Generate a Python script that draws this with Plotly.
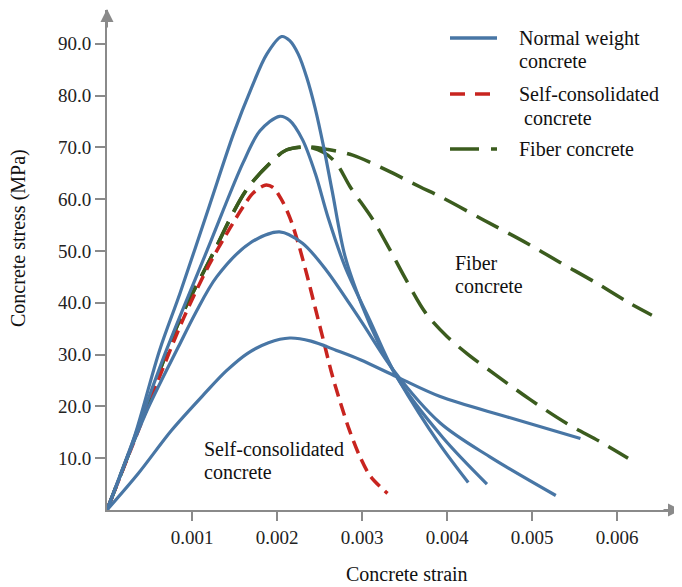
import plotly.graph_objects as go

# ---------------- data (strain, stress in MPa) ----------------
nwc_a_strain = [0, 0.00031, 0.00062, 0.00086, 0.00120, 0.00149, 0.00170, 0.00188, 0.002055, 0.00215,
                0.00225, 0.00235, 0.00245, 0.00255, 0.00265, 0.00280, 0.00300, 0.00320, 0.00341,
                0.00390, 0.00425]
nwc_a_stress = [0, 13.5, 30.9, 41.9, 58.5, 72.7, 81.5, 88.0, 91.4, 90.6,
                88.0, 83.5, 77.5, 70.0, 61.5, 49.0, 39.5, 32.0, 25.7,
                13.0, 5.3]

nwc_b_strain = [0, 0.00031, 0.00070, 0.00118, 0.00160, 0.00180, 0.00203, 0.00215, 0.00230, 0.00245,
                0.00260, 0.00280, 0.00309, 0.00341, 0.00395, 0.00447]
nwc_b_stress = [0, 13.5, 30.9, 50.2, 67.0, 73.2, 76.0, 75.2, 71.5, 65.0,
                56.5, 47.0, 36.7, 25.7, 14.0, 5.0]

nwc_c_strain = [0, 0.00025, 0.00049, 0.00084, 0.00104, 0.00129, 0.00168, 0.00203, 0.00230, 0.00258,
                0.00298, 0.00337, 0.00392, 0.00450, 0.00528]
nwc_c_stress = [0, 10.5, 19.9, 31.5, 38.0, 45.0, 51.5, 53.7, 51.5, 46.3,
                36.7, 27.0, 16.8, 10.3, 2.8]

nwc_d_strain = [0, 0.00037, 0.00076, 0.00115, 0.00140, 0.00165, 0.00190, 0.00215, 0.00240, 0.00270,
                0.00298, 0.00341, 0.00392, 0.00470, 0.00557]
nwc_d_stress = [0, 7.1, 15.4, 22.5, 26.8, 30.2, 32.3, 33.2, 32.6, 30.8,
                29.0, 25.7, 21.9, 18.0, 13.8]

scc_strain = [0, 0.00030, 0.00060, 0.00090, 0.00120, 0.00145, 0.00160, 0.00172, 0.00186, 0.00195,
              0.00205, 0.00215, 0.00225, 0.00235, 0.00245, 0.00255, 0.00265, 0.00275, 0.00285,
              0.00297, 0.00310, 0.00330]
scc_stress = [0, 12.5, 25.0, 37.0, 47.3, 54.5, 58.5, 61.2, 62.7, 62.3,
              60.0, 56.5, 51.5, 45.5, 39.0, 32.5, 26.0, 20.5, 15.5,
              10.5, 6.5, 3.2]

fiber1_strain = [0, 0.00033, 0.00085, 0.00121, 0.00164, 0.00196, 0.00211, 0.00235, 0.00255, 0.00270,
                 0.00286, 0.00313, 0.00333, 0.00350, 0.00375, 0.00400, 0.00425, 0.00458, 0.00498,
                 0.00541, 0.00580, 0.00613]
fiber1_stress = [0, 14.0, 36.5, 48.3, 61.8, 67.6, 69.5, 70.1, 69.0, 66.9,
                 62.4, 56.0, 50.2, 45.0, 38.0, 33.5, 30.0, 26.0, 21.3,
                 16.7, 13.2, 10.0]

fiber2_strain = [0, 0.00033, 0.00085, 0.00121, 0.00164, 0.00196, 0.00211, 0.00235, 0.00260, 0.00289,
                 0.00329, 0.00368, 0.00392, 0.00443, 0.00494, 0.00533, 0.00576, 0.00615, 0.00641]
fiber2_stress = [0, 14.0, 36.5, 48.3, 61.8, 67.6, 69.5, 70.1, 69.6, 68.5,
                 65.6, 62.4, 60.5, 56.0, 51.5, 47.8, 43.8, 39.9, 37.6]

x_tick_vals = [0.001, 0.002, 0.003, 0.004, 0.005, 0.006]
x_tick_text = ["0.001", "0.002", "0.003", "0.004", "0.005", "0.006"]
y_tick_vals = [10, 20, 30, 40, 50, 60, 70, 80, 90]
y_tick_text = ["10.0", "20.0", "30.0", "40.0", "50.0", "60.0", "70.0", "80.0", "90.0"]

legend_entries = [
    ("Normal weight", "concrete"),
    ("Self-consolidated", "\u00a0concrete"),
    ("Fiber concrete", None),
]

BLUE = "#4876A5"
RED = "#C8241F"
GREEN = "#3B5C1E"
AXIS = "#8a8a8a"
FONT = "Liberation Serif"
TXT = "#111111"

RED_DASH = "13px,7px"
GREEN_DASH = "25px,11px"

fig = go.Figure()

def add(x, y, color, dash, width, name):
    fig.add_trace(go.Scatter(
        x=x, y=y, mode="lines", name=name, showlegend=False,
        line=dict(color=color, width=width, dash=dash, shape="spline", smoothing=0.9),
        hoverinfo="skip"))

add(fiber1_strain, fiber1_stress, GREEN, GREEN_DASH, 3.5, "Fiber concrete")
add(fiber2_strain, fiber2_stress, GREEN, GREEN_DASH, 3.5, "Fiber concrete")
add(scc_strain, scc_stress, RED, RED_DASH, 3.5, "Self-consolidated concrete")
add(nwc_a_strain, nwc_a_stress, BLUE, "solid", 3.2, "Normal weight concrete")
add(nwc_b_strain, nwc_b_stress, BLUE, "solid", 3.2, "Normal weight concrete")
add(nwc_c_strain, nwc_c_stress, BLUE, "solid", 3.2, "Normal weight concrete")
add(nwc_d_strain, nwc_d_stress, BLUE, "solid", 3.2, "Normal weight concrete")

# The page body has an 8 px margin, so the figure is laid out 8 px up/left.
OFF = 8
W, H = 682 - OFF, 587 - OFF
L, R, T, B = 107 - OFF, 0, 10 - OFF, 77
PW, PH = W - L - R, H - T - B
x_max = PW / 85000.0
y_max = PH / 5.18

def px(xp):  # reference-picture x pixel -> paper
    return (xp - 107) / PW

def py(yp):  # reference-picture y pixel -> paper
    return (510 - yp) / PH

fig.update_layout(
    width=W, height=H,
    margin=dict(l=L, r=R, t=T, b=B, autoexpand=False),
    paper_bgcolor="white", plot_bgcolor="white",
    font=dict(family=FONT, size=20, color=TXT),
    xaxis=dict(range=[0, x_max], showgrid=False, zeroline=False,
               showline=True, linecolor=AXIS, linewidth=2,
               ticks="outside", ticklen=9, tickwidth=1.5, tickcolor=AXIS,
               tickvals=x_tick_vals, ticktext=x_tick_text,
               tickfont=dict(family=FONT, size=19, color="#222")),
    yaxis=dict(range=[0, y_max], showgrid=False, zeroline=False,
               showline=True, linecolor=AXIS, linewidth=2,
               ticks="outside", ticklen=10, tickwidth=1.5, tickcolor=AXIS,
               tickvals=y_tick_vals, ticktext=y_tick_text,
               tickfont=dict(family=FONT, size=19, color="#222")),
    showlegend=False,
)

# axis arrows
fig.add_annotation(x=1, y=0, xref="paper", yref="paper", ax=-20, ay=0, text="",
                   showarrow=True, arrowhead=2, arrowsize=1.3, arrowwidth=2, arrowcolor=AXIS)
fig.add_annotation(x=0, y=py(9), xref="paper", yref="paper", ax=0, ay=20, text="",
                   showarrow=True, arrowhead=2, arrowsize=1.3, arrowwidth=2, arrowcolor=AXIS)
fig.add_shape(type="line", xref="paper", yref="paper", x0=0, x1=0, y0=1, y1=py(14),
              line=dict(color=AXIS, width=2))

# axis titles
fig.add_annotation(x=px(407), y=py(574), xref="paper", yref="paper",
                   text="Concrete strain", showarrow=False, xanchor="center", yanchor="middle",
                   font=dict(family=FONT, size=20, color=TXT))
fig.add_annotation(x=px(19), y=py(238), xref="paper", yref="paper",
                   text="Concrete stress (MPa)", showarrow=False, textangle=-90,
                   xanchor="center", yanchor="middle",
                   font=dict(family=FONT, size=20, color=TXT))

# in-plot labels
for txt, xp, yp in [("Self-consolidated", 202, 449), ("concrete", 202, 472),
                    ("Fiber", 453, 263), ("concrete", 453, 286)]:
    fig.add_annotation(x=px(xp), y=py(yp), xref="paper", yref="paper", text=txt,
                       showarrow=False, xanchor="left", yanchor="middle",
                       font=dict(family=FONT, size=20, color=TXT))

# legend (drawn by hand to match layout)
legend_rows = [(38, 61, BLUE, "solid", 3.5), (94, 118, RED, "15px,10px", 3.5),
               (149, None, GREEN, "29px,12px", 3.5)]
for (first, second), (y1, y2, col, dash, w) in zip(legend_entries, legend_rows):
    fig.add_shape(type="line", xref="paper", yref="paper",
                  x0=px(450), x1=px(497), y0=py(y1), y1=py(y1),
                  line=dict(color=col, width=w, dash=dash))
    fig.add_annotation(x=px(517), y=py(y1), xref="paper", yref="paper", text=first,
                       showarrow=False, xanchor="left", yanchor="middle",
                       font=dict(family=FONT, size=20, color=TXT))
    if second:
        fig.add_annotation(x=px(517), y=py(y2), xref="paper", yref="paper", text=second,
                           showarrow=False, xanchor="left", yanchor="middle",
                           font=dict(family=FONT, size=20, color=TXT))

fig.write_html("out.html")
